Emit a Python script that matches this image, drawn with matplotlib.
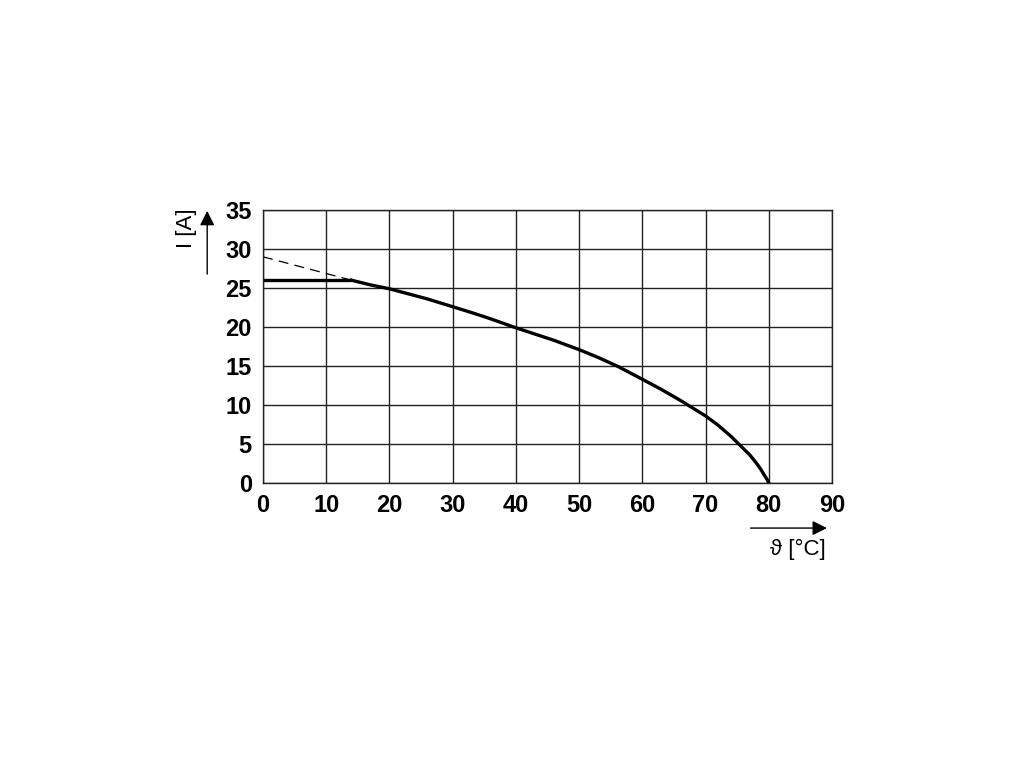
import matplotlib
matplotlib.use("Agg")
import matplotlib.pyplot as plt

# derating curve
temps = [14, 17, 20, 23, 26, 30, 33, 36, 40, 43, 46, 50, 53, 56, 60, 63, 66, 68, 70,
         72, 74, 75, 76, 77, 78, 78.7, 79.3, 79.7, 80]
current = [26.0, 25.4, 24.9, 24.25, 23.6, 22.6, 21.85, 21.05, 19.9, 19.1, 18.3, 17.1, 16.1,
           15.0, 13.3, 12.0, 10.6, 9.6, 8.6, 7.4, 6.0, 5.2, 4.4, 3.6, 2.6, 1.8, 1.0, 0.5, 0.0]
flat_t = [0, 14]
flat_i = [26.0, 26.0]
dash_t = [0, 14]
dash_i = [29.0, 26.0]

xticks = list(range(0, 91, 10))
yticks = list(range(0, 36, 5))

plt.rcParams['font.family'] = ['Liberation Sans', 'DejaVu Sans']

fig = plt.figure(figsize=(10.2, 7.65), dpi=100)
ax = fig.add_axes([0.2578, 0.3686, 0.5579, 0.3569])

ax.plot(dash_t, dash_i, color='black', lw=0.9, dashes=(8, 5))
ax.plot(flat_t, flat_i, color='black', lw=2.4, solid_capstyle='butt')
ax.plot(temps, current, color='black', lw=2.4, solid_joinstyle='round')

ax.set_xlim(0, 90)
ax.set_ylim(0, 35)
ax.set_xticks(xticks)
ax.set_yticks(yticks)
ax.grid(True, color='#222222', lw=1.0)
ax.tick_params(length=0, labelsize=17, pad=8)
for lab in ax.get_xticklabels() + ax.get_yticklabels():
    lab.set_fontweight('bold')
for s in ax.spines.values():
    s.set_color('#222222')
    s.set_linewidth(1.0)

# axis arrows and labels
ax.annotate('', xy=(0.996, -0.165), xytext=(0.852, -0.165), xycoords='axes fraction',
            arrowprops=dict(arrowstyle='-|>', color='black', lw=1.0, mutation_scale=22),
            annotation_clip=False)
ax.text(0.94, -0.245, 'ϑ [°C]', transform=ax.transAxes, ha='center', va='center', fontsize=16)

ax.annotate('', xy=(-0.098, 1.007), xytext=(-0.098, 0.755), xycoords='axes fraction',
            arrowprops=dict(arrowstyle='-|>', color='black', lw=1.0, mutation_scale=22),
            annotation_clip=False)
ax.text(-0.134, 0.934, 'I [A]', transform=ax.transAxes, ha='center', va='center',
        fontsize=16, rotation=90)

fig.savefig('out.png', dpi=100)
